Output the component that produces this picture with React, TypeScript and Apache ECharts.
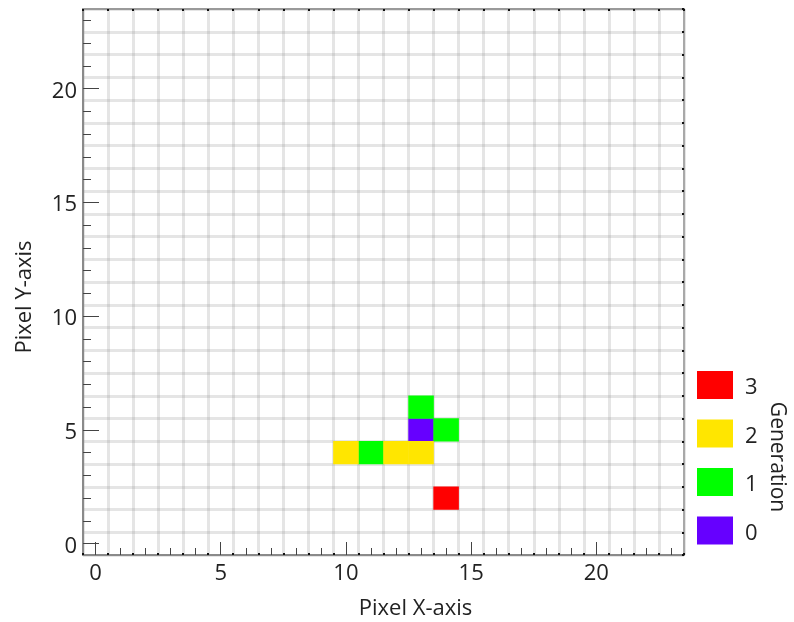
import React, { useEffect, useRef } from "react";
import * as echarts from "echarts";

// Pixel indices along each axis (0..23)
const xCategories = ["0","1","2","3","4","5","6","7","8","9","10","11","12","13","14","15","16","17","18","19","20","21","22","23"];
const yCategories = ["0","1","2","3","4","5","6","7","8","9","10","11","12","13","14","15","16","17","18","19","20","21","22","23"];

// Occupied pixels and their generation
const cellX = [13, 13, 14, 11, 10, 12, 13, 14];
const cellY = [5, 6, 5, 4, 4, 4, 4, 2];
const cellGeneration = [0, 1, 1, 1, 2, 2, 2, 3];

const generationLevels = [0, 1, 2, 3];
const generationColors = ["#6600ff", "#00ff00", "#ffe600", "#ff0000"];

const FONT = "Open Sans";
const FS = 22;

export default function App() {
  const ref = useRef<HTMLDivElement>(null);
  useEffect(() => {
    if (!ref.current) return;
    const chart = echarts.init(ref.current, null, { renderer: "svg" });
    const data = cellX.map((x, i) => [x, cellY[i], cellGeneration[i]]);
    const gridColor = "rgba(153,153,153,0.25)";
    const majorEvery = (i: number) => i % 5 === 0;
    const baseX = { type: "category", data: xCategories, gridIndex: 0, boundaryGap: true };
    const baseY = { type: "category", data: yCategories, gridIndex: 0, boundaryGap: true };
    chart.setOption({
      animation: false,
      textStyle: { fontFamily: FONT },
      grid: { left: 83, top: 9, right: 110, bottom: 67, containLabel: false },
      xAxis: [
        {
          ...baseX,
          position: "bottom",
          name: "Pixel X-axis",
          nameLocation: "middle",
          nameGap: 40,
          nameTextStyle: { fontSize: FS, color: "#222", fontFamily: FONT, padding: [0, 0, 0, 64] },
          axisLine: { show: true, lineStyle: { color: "#8a8a8a", width: 2 } },
          axisTick: { show: true, inside: true, alignWithLabel: true, interval: 0, length: 7, lineStyle: { color: "#444", width: 1 } },
          axisLabel: { interval: (i: number) => majorEvery(i), margin: 5, fontSize: FS, color: "#222", fontFamily: FONT },
          splitLine: { show: true, interval: 0, lineStyle: { color: gridColor, width: 3 } },
        },
        {
          ...baseX,
          position: "bottom",
          axisLine: { show: false },
          axisTick: { show: true, inside: true, alignWithLabel: true, interval: (i: number) => majorEvery(i), length: 13, lineStyle: { color: "#444", width: 1 } },
          axisLabel: { show: false },
          splitLine: { show: false },
        },
        {
          ...baseX,
          position: "bottom",
          axisLine: { show: false },
          axisTick: { show: true, inside: true, interval: 0, length: 2, lineStyle: { color: "#111", width: 2 } },
          axisLabel: { show: false },
          splitLine: { show: false },
        },
        {
          ...baseX,
          position: "top",
          axisLine: { show: true, lineStyle: { color: "#9a9a9a", width: 2 } },
          axisTick: { show: true, inside: true, interval: 0, length: 2, lineStyle: { color: "#111", width: 2 } },
          axisLabel: { show: false },
          splitLine: { show: false },
        },
      ],
      yAxis: [
        {
          ...baseY,
          position: "left",
          name: "Pixel Y-axis",
          nameLocation: "middle",
          nameGap: 50,
          nameRotate: 90,
          nameTextStyle: { fontSize: FS, color: "#222", fontFamily: FONT, padding: [0, 30, 0, 0] },
          axisLine: { show: true, lineStyle: { color: "#8a8a8a", width: 2 } },
          axisTick: { show: true, inside: true, alignWithLabel: true, interval: 0, length: 8, lineStyle: { color: "#444", width: 1 } },
          axisLabel: { interval: (i: number) => majorEvery(i), margin: 6, fontSize: FS, color: "#222", fontFamily: FONT },
          splitLine: { show: true, interval: 0, lineStyle: { color: gridColor, width: 3 } },
        },
        {
          ...baseY,
          position: "left",
          axisLine: { show: false },
          axisTick: { show: true, inside: true, alignWithLabel: true, interval: (i: number) => majorEvery(i), length: 16, lineStyle: { color: "#444", width: 1 } },
          axisLabel: { show: false },
          splitLine: { show: false },
        },
        {
          ...baseY,
          position: "right",
          axisLine: { show: true, lineStyle: { color: "#a8a8a8", width: 2 } },
          axisTick: { show: true, inside: true, interval: 0, length: 2, lineStyle: { color: "#111", width: 2 } },
          axisLabel: { show: false },
          splitLine: { show: false },
        },
      ],
      visualMap: {
        type: "piecewise",
        dimension: 2,
        orient: "vertical",
        left: 682,
        top: 356,
        itemWidth: 36,
        itemHeight: 28,
        itemGap: 20.5,
        itemSymbol: "rect",
        textGap: 12,
        align: "left",
        showLabel: true,
        selectedMode: false,
        textStyle: { fontSize: FS, color: "#222", fontFamily: FONT },
        pieces: generationLevels.map((g, i) => ({ value: g, label: String(g), color: generationColors[i] })),
      },
      graphic: [
        {
          type: "text",
          x: 779,
          y: 457,
          rotation: -Math.PI / 2,
          style: {
            text: "Generation",
            fontSize: 21,
            fontFamily: FONT,
            fill: "#222",
            align: "center",
            verticalAlign: "middle",
          },
        },
      ],
      series: [
        {
          type: "heatmap",
          xAxisIndex: 0,
          yAxisIndex: 0,
          data,
          itemStyle: { borderWidth: 0 },
          emphasis: { disabled: true },
        },
      ],
    });
    return () => chart.dispose();
  }, []);
  return <div ref={ref} style={{ position: "fixed", left: 0, top: 0, width: 794, height: 622 }} />;
}
